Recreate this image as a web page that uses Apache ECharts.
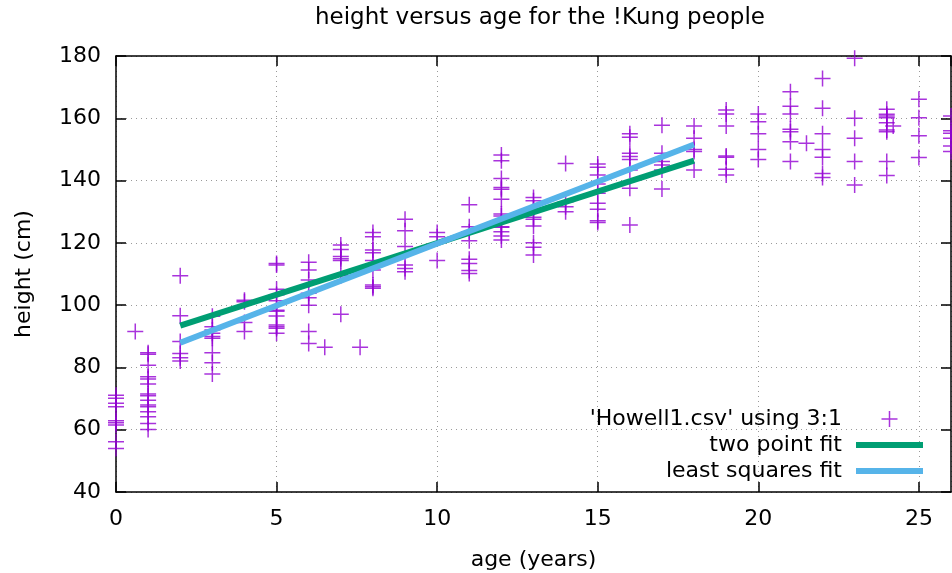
<!DOCTYPE html>
<html>
<head>
<meta charset="utf-8">
<script src="https://cdn.jsdelivr.net/npm/echarts@6/dist/echarts.min.js"></script>
<style>
  html, body { margin: 0; padding: 0; background: #ffffff; }
  #chart { width: 952px; height: 573px; }
</style>
</head>
<body>
<div id="chart"></div>
<script>
// Ages (years) at which measurements were taken, and the heights (cm) recorded at each age
const sampleAges = [0, 0.6, 1, 2, 3, 4, 5, 6, 6.5, 7, 7.6, 8, 9, 10, 11, 12, 13, 14, 15, 16, 17, 18, 19, 20, 21, 21.5, 22, 23, 24, 24.2, 25, 26];
const sampleHeights = [
  [71.1, 70.1, 68.5, 67.4, 62.9, 62.2, 61.5, 56.1, 54.0],
  [91.5],
  [84.7, 84.2, 80.7, 77.0, 76.3, 74.7, 71.5, 70.9, 69.5, 67.9, 67.4, 65.8, 64.2, 62.0, 60.1],
  [109.4, 96.6, 88.3, 84.5, 83.1, 82.1],
  [96.4, 93.1, 92.0, 91.0, 89.9, 89.4, 84.7, 81.5, 77.9],
  [101.6, 101.1, 94.4, 91.5],
  [113.4, 112.9, 105.1, 103.3, 101.4, 98.4, 98.0, 96.5, 93.6, 93.1, 92.6, 91.0],
  [113.8, 111.3, 108.1, 103.8, 102.4, 100.0, 91.5, 87.7],
  [86.5],
  [119.3, 117.9, 115.6, 114.9, 114.3, 109.4, 97.1],
  [86.5],
  [123.3, 122.0, 117.7, 116.8, 114.3, 111.3, 106.5, 105.9, 105.4],
  [127.6, 123.9, 118.8, 112.9, 111.8, 110.7],
  [123.3, 122.0, 114.3],
  [132.2, 125.2, 123.6, 120.7, 114.7, 113.4, 111.1, 110.2],
  [148.2, 146.4, 140.7, 137.8, 137.2, 134.0, 129.3, 128.6, 126.8, 125.2, 125.0, 123.6, 122.2, 120.9],
  [134.6, 133.5, 131.1, 128.2, 127.6, 125.4, 120.0, 118.6, 116.1],
  [145.5, 133.2, 131.6, 130.0],
  [145.3, 144.3, 141.8, 138.9, 135.9, 132.7, 130.8, 127.1, 126.5],
  [155.0, 153.9, 148.8, 147.7, 146.8, 143.4, 137.5, 125.7],
  [157.8, 148.8, 146.1, 145.0, 143.4, 137.3],
  [157.5, 153.6, 150.0, 149.3, 143.4],
  [162.7, 161.4, 157.5, 147.9, 147.5, 143.6, 141.8],
  [161.4, 158.9, 155.0, 150.0, 146.8],
  [168.5, 163.9, 161.4, 156.5, 155.7, 152.5, 146.1],
  [152.0],
  [172.8, 163.2, 155.0, 150.0, 147.5, 142.3, 141.0],
  [179.3, 160.0, 153.6, 146.1, 138.6],
  [162.9, 161.3, 160.7, 160.2, 158.6, 156.2, 155.7, 146.1, 141.6],
  [157.5],
  [166.1, 160.2, 154.4, 147.4],
  [160.7, 156.0, 155.2, 153.6, 151.1, 149.3]
];

// Fitted straight lines over ages 2..18
const fitAges = [2, 18];
const twoPointFit = [93.4, 146.4];
const leastSquaresFit = [87.9, 151.6];

// Axis ranges and tick spacing
const ageRange = [0, 26];
const ageStep = 5;
const heightRange = [40, 180];
const heightStep = 20;

const scatterName = "'Howell1.csv' using 3:1";
const FONT = 'DejaVu Sans';
const PURPLE = '#9400d3';
const GREEN = '#009e73';
const BLUE = '#56b4e9';
const PLUS = 'path://M8,0 L8,16 M0,8 L16,8';
const BAR = 'path://M0,0 L67,0 L67,6 L0,6 Z';

const points = [];
sampleAges.forEach((age, i) => {
  sampleHeights[i].forEach(h => points.push([age, h]));
});
const pairUp = (xs, ys) => xs.map((x, i) => [x, ys[i]]);

const border = { show: true, onZero: false, lineStyle: { color: '#000', width: 1.5 } };
const ticks = { show: true, inside: true, length: 10, lineStyle: { color: '#000', width: 1.5 } };
const grid = { show: true, lineStyle: { color: '#9a9a9a', width: 1, type: [1, 4] } };
const labelText = { fontFamily: FONT, fontSize: 22, color: '#000' };

const chart = echarts.init(document.getElementById('chart'), null, { renderer: 'canvas' });
chart.setOption({
  animation: false,
  backgroundColor: '#ffffff',
  title: {
    text: 'height versus age for the !Kung people',
    left: 535,
    top: 2,
    textAlign: 'center',
    textStyle: { fontFamily: FONT, fontSize: 23, fontWeight: 'normal', color: '#000' }
  },
  grid: { left: 116, top: 56, right: 1, bottom: 81, containLabel: false, outerBoundsMode: 'none' },
  legend: {
    orient: 'vertical',
    right: 24,
    top: 403,
    align: 'right',
    itemWidth: 67,
    itemHeight: 16,
    itemGap: 4,
    selectedMode: false,
    textStyle: { fontFamily: FONT, fontSize: 22, color: '#000', padding: [0, 9, 0, 0] },
    data: [
      { name: scatterName, icon: PLUS, itemStyle: { color: PURPLE, borderColor: PURPLE, borderWidth: 1.5 } },
      { name: 'two point fit', icon: BAR, itemStyle: { color: GREEN, borderWidth: 0 } },
      { name: 'least squares fit', icon: BAR, itemStyle: { color: BLUE, borderWidth: 0 } }
    ]
  },
  xAxis: [
    {
      type: 'value', position: 'bottom',
      min: ageRange[0], max: ageRange[1], interval: ageStep,
      name: 'age (years)', nameLocation: 'middle', nameGap: 57,
      nameTextStyle: labelText,
      axisLine: border, axisTick: ticks,
      axisLabel: Object.assign({ margin: 16, showMaxLabel: false }, labelText),
      splitLine: grid
    },
    {
      type: 'value', position: 'top',
      min: ageRange[0], max: ageRange[1], interval: ageStep,
      axisLine: border, axisTick: ticks,
      axisLabel: { show: false }, splitLine: { show: false }
    }
  ],
  yAxis: [
    {
      type: 'value', position: 'left',
      min: heightRange[0], max: heightRange[1], interval: heightStep,
      name: 'height (cm)', nameLocation: 'middle', nameGap: 81,
      nameTextStyle: labelText,
      axisLine: border, axisTick: ticks,
      axisLabel: Object.assign({ margin: 15 }, labelText),
      splitLine: grid
    },
    {
      type: 'value', position: 'right',
      min: heightRange[0], max: heightRange[1], interval: heightStep,
      axisLine: border, axisTick: ticks,
      axisLabel: { show: false }, splitLine: { show: false }
    }
  ],
  series: [
    {
      type: 'scatter',
      name: scatterName,
      data: points,
      symbol: PLUS,
      symbolSize: 16,
      clip: true,
      itemStyle: { color: PURPLE, borderColor: PURPLE, borderWidth: 1.5 },
      emphasis: { disabled: true }
    },
    {
      type: 'line',
      name: 'two point fit',
      data: pairUp(fitAges, twoPointFit),
      symbol: 'none',
      lineStyle: { color: GREEN, width: 6 },
      itemStyle: { color: GREEN },
      emphasis: { disabled: true }
    },
    {
      type: 'line',
      name: 'least squares fit',
      data: pairUp(fitAges, leastSquaresFit),
      symbol: 'none',
      lineStyle: { color: BLUE, width: 6 },
      itemStyle: { color: BLUE },
      emphasis: { disabled: true }
    }
  ]
});
</script>
</body>
</html>
